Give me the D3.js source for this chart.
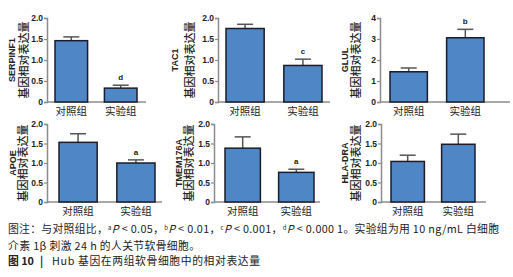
<!DOCTYPE html>
<html>
<head>
<meta charset="utf-8">
<script src="https://cdn.jsdelivr.net/npm/d3@7"></script>
<style>
  body { margin: 0; background: #fff; }
  svg { display: block; }
</style>
</head>
<body>
<div id="container"></div>
<script>
const w = 513;
const h = 277;

// data
const genes = ["SERPINF1", "TAC1", "GLUL", "APOE", "TMEM176A", "HLA-DRA"];
const groups = ["对照组", "实验组"];
const controlMean = [1.46, 1.75, 1.44, 1.53, 1.38, 1.04];
const controlErr = [0.09, 0.10, 0.18, 0.22, 0.29, 0.16];
const treatMean = [0.33, 0.87, 3.06, 1.00, 0.76, 1.48];
const treatErr = [0.07, 0.15, 0.40, 0.08, 0.08, 0.26];
const sigLabels = ["d", "c", "b", "a", "a", ""];
const yMax = [2, 2, 4, 2, 2, 2];
const yTicks2 = [0, 0.5, 1.0, 1.5, 2.0];
const yTicks4 = [0, 1, 2, 3, 4];

// panel layout (pixels)
const axisX = [47, 218, 380, 47, 214, 381];
const barsFrom = [55, 226, 390, 59, 225, 391];
const barsTo = [137, 322, 484, 155, 314, 475];
const axisEnd = [146, 330, 510, 162, 320, 486];
const plotTop = [18, 18, 18, 124, 124, 124];
const plotBottom = [102, 102, 102, 202, 202, 202];
const geneLabelX = [12, 175, 345, 13, 179, 345];
const cnLabelX = [24, 190, 356, 23, 189, 356];

const svg = d3.select("#container")
  .append("svg")
  .attr("width", w)
  .attr("height", h);

const barFill = "#4f86c6";
const axisColor = "#8c8c8c";

genes.forEach((gene, i) => {
  const g = svg.append("g");
  const yScale = d3.scaleLinear()
    .domain([0, yMax[i]])
    .range([plotBottom[i], plotTop[i]]);
  const xScale = d3.scaleBand()
    .domain(groups)
    .range([barsFrom[i], barsTo[i]])
    .paddingInner(0.34);

  const ticks = yMax[i] === 4 ? yTicks4 : yTicks2;
  const yAxis = d3.axisLeft(yScale)
    .tickValues(ticks)
    .tickSize(3)
    .tickPadding(1)
    .tickFormat((d) => yMax[i] === 4 ? d3.format("d")(d) : (d === 0 ? "0" : d3.format(".1f")(d)));

  const ya = g.append("g")
    .attr("transform", "translate(" + axisX[i] + ",0)")
    .call(yAxis);
  ya.select(".domain").attr("stroke", axisColor).attr("stroke-width", 1.5);
  ya.selectAll(".tick line").attr("stroke", axisColor).attr("stroke-width", 1.2);
  ya.selectAll(".tick text")
    .attr("fill", "#222")
    .style("font-family", "'Liberation Sans', Arial, sans-serif")
    .style("font-weight", "bold")
    .style("font-size", "8.5px");

  // x axis line
  g.append("line")
    .attr("x1", axisX[i])
    .attr("x2", axisEnd[i])
    .attr("y1", yScale(0))
    .attr("y2", yScale(0))
    .attr("stroke", axisColor)
    .attr("stroke-width", 1.5);

  const rows = [
    { grp: groups[0], mean: controlMean[i], err: controlErr[i], sig: "" },
    { grp: groups[1], mean: treatMean[i], err: treatErr[i], sig: sigLabels[i] }
  ];

  // error bars
  rows.forEach((d) => {
    const cx = xScale(d.grp) + xScale.bandwidth() / 2;
    g.append("line")
      .attr("x1", cx).attr("x2", cx)
      .attr("y1", yScale(d.mean))
      .attr("y2", yScale(d.mean + d.err))
      .attr("stroke", "#555")
      .attr("stroke-width", 1.5);
    g.append("line")
      .attr("x1", cx - 8).attr("x2", cx + 8)
      .attr("y1", yScale(d.mean + d.err))
      .attr("y2", yScale(d.mean + d.err))
      .attr("stroke", "#555")
      .attr("stroke-width", 1.5);
    if (d.sig) {
      g.append("text")
        .attr("x", cx)
        .attr("y", yScale(d.mean + d.err) - 5)
        .attr("text-anchor", "middle")
        .style("font-family", "'Liberation Sans', Arial, sans-serif")
        .style("font-weight", "bold")
        .style("font-size", "8px")
        .attr("fill", "#222")
        .text(d.sig);
    }
  });

  g.selectAll("rect.bar")
    .data(rows)
    .enter()
    .append("rect")
    .attr("class", "bar")
    .attr("x", (d) => xScale(d.grp))
    .attr("y", (d) => yScale(d.mean))
    .attr("width", xScale.bandwidth())
    .attr("height", (d) => yScale(0) - yScale(d.mean))
    .attr("fill", barFill)
    .attr("stroke", "#1c1c2a")
    .attr("stroke-width", 1.5);

  // x labels
  g.selectAll("text.xl")
    .data(groups)
    .enter()
    .append("text")
    .attr("class", "xl")
    .attr("x", (d) => xScale(d) + xScale.bandwidth() / 2)
    .attr("y", yScale(0) + 13)
    .attr("text-anchor", "middle")
    .style("font-family", "'Noto Sans CJK SC', sans-serif")
    .style("font-size", "10.5px")
    .attr("fill", "#222")
    .text((d) => d);

  // y labels
  const cy = (plotTop[i] + plotBottom[i]) / 2;
  g.append("text")
    .attr("transform", "translate(" + (geneLabelX[i] + 3) + "," + cy + ") rotate(-90)")
    .attr("text-anchor", "middle")
    .style("font-family", "'Liberation Sans', Arial, sans-serif")
    .style("font-weight", "bold")
    .style("font-size", "9px")
    .attr("fill", "#222")
    .text(gene);
  g.append("text")
    .attr("transform", "translate(" + (cnLabelX[i] + 4) + "," + cy + ") rotate(-90)")
    .attr("text-anchor", "middle")
    .style("font-family", "'Noto Sans CJK SC', sans-serif")
    .style("font-weight", "500")
    .style("font-size", "11px")
    .attr("fill", "#222")
    .text("基因相对表达量");
});

// caption
const cap = svg.append("g")
  .style("font-family", "'Noto Sans CJK SC', sans-serif")
  .style("font-size", "10.8px")
  .attr("fill", "#222");

const line1 = cap.append("text").attr("x", 8).attr("y", 233)
  .attr("textLength", 491).attr("lengthAdjust", "spacing");
const pParts = [["a", "0.05"], ["b", "0.01"], ["c", "0.001"], ["d", "0.000 1"]];
line1.append("tspan").text("图注：与对照组比，");
pParts.forEach((p, k) => {
  line1.append("tspan").attr("font-size", "6px").attr("dy", -3).text(p[0]);
  line1.append("tspan").attr("dy", 3).style("font-style", "italic").text("P");
  line1.append("tspan").text(" < " + p[1] + (k < 3 ? "，" : "。"));
});
line1.append("tspan").text("实验组为用 10 ng/mL 白细胞");

cap.append("text").attr("x", 8).attr("y", 250)
  .attr("textLength", 192).attr("lengthAdjust", "spacing")
  .text("介素 1β 刺激 24 h 的人关节软骨细胞。");

const line3 = cap.append("text").attr("x", 8).attr("y", 265);
line3.append("tspan").style("font-weight", "bold").text("图 10");
line3.append("tspan").attr("x", 40).style("font-weight", "bold").text("|");
line3.append("tspan").attr("x", 52)
  .attr("textLength", 208).attr("lengthAdjust", "spacing")
  .text("Hub 基因在两组软骨细胞中的相对表达量");
</script>
</body>
</html>
